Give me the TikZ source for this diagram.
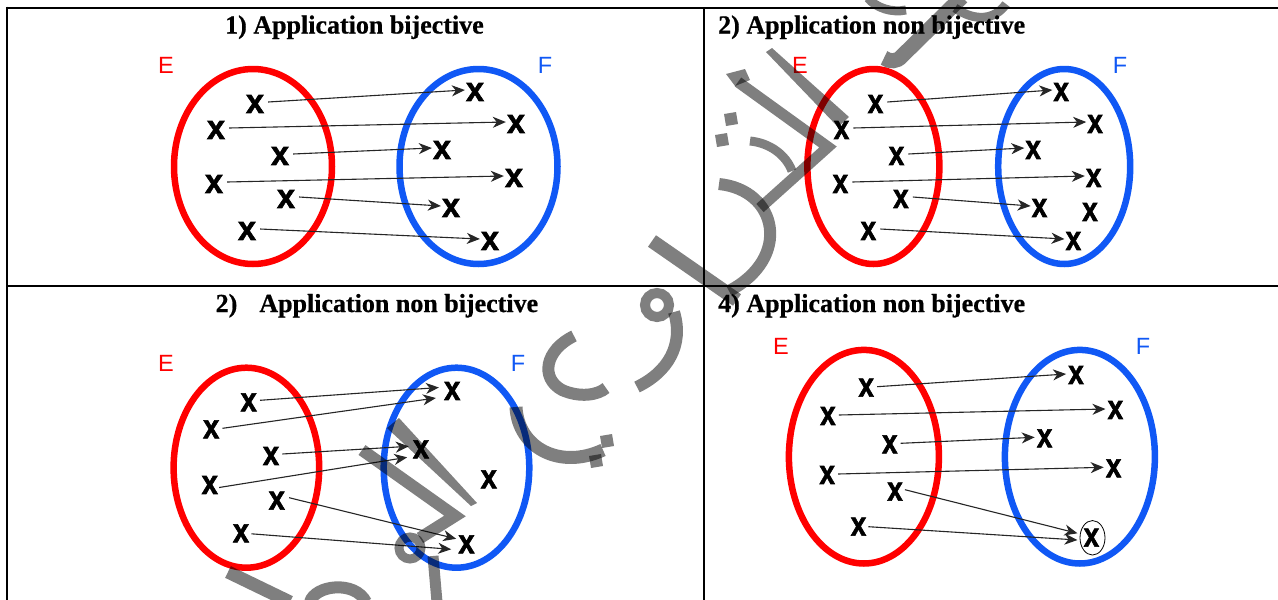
\documentclass[tikz,border=0pt]{standalone}
\usepackage{fontspec}
\setmainfont{Liberation Serif}[BoldFeatures={FakeBold=0.7}]
\setsansfont{Liberation Sans}
\newfontfamily\xmfont{Liberation Sans}[BoldFeatures={FakeBold=1.8}]
\usetikzlibrary{arrows.meta,shapes.geometric}
\definecolor{setred}{RGB}{255,0,0}
\definecolor{setblue}{RGB}{16,88,245}
\begin{document}
\begin{tikzpicture}[x=1pt,y=-1pt,
  title/.style={font=\fontsize{26}{26}\selectfont\bfseries, inner sep=0pt, anchor=base west},
  labE/.style={font=\sffamily\fontsize{23.5}{23.5}\selectfont, inner sep=0pt, text=setred},
  labF/.style={font=\sffamily\fontsize{23.5}{23.5}\selectfont, inner sep=0pt, text=setblue},
  xm/.style={font=\xmfont\bfseries\fontsize{34}{34}\selectfont, inner sep=0pt},
  ellE/.style={draw=setred, line width=6.5pt},
  ellF/.style={draw=setblue, line width=6.5pt},
  arr/.style={draw=black!85, line width=1.1pt, -{Stealth[length=13pt,width=11pt,inset=4pt]}},
  grid/.style={draw=black, line width=2pt},
  wm/.style={draw=black, opacity=0.5, line width=12pt},
  wmf/.style={fill=black, opacity=0.5}]
\useasboundingbox (0,0) rectangle (1278,600);
\fill[white] (0,0) rectangle (1278,600);

% table rules
\draw[grid] (6,7.5) -- (1278,7.5);
\draw[grid] (6,286) -- (1278,286);
\draw[grid] (7,6.5) -- (7,600);
\draw[grid] (703.5,7.5) -- (703.5,600);

% titles
\node[title] (t1) at (225,33.5) {1) Application bijective};
\node[title] (t2) at (718,33.5) {2) Application non bijective};
\node[title] (t3) at (215.5,312) {2)\hspace{22pt}Application non bijective};
\node[title] (t4) at (718,312) {4) Application non bijective};

% ===== panel 1 =====
\node[labE] (e1) at (166,65.5) {E};
\node[labF] (f1) at (545,65.5) {F};
\draw[ellE] (253,166.5) ellipse [x radius=79pt, y radius=97.5pt];
\draw[ellF] (478.5,166.5) ellipse [x radius=79pt, y radius=97.5pt];
\begin{scope}[every node/.style={xm, xscale=0.95}]
\node (a1) at (255,104) {x};
\node (a2) at (216,130) {x};
\node (a3) at (280,156) {x};
\node (a4) at (214,184) {x};
\node (a5) at (286,199) {x};
\node (a6) at (247,231) {x};
\node (b1) at (475,92) {x};
\node (b2) at (516,124) {x};
\node (b3) at (442,150) {x};
\node (b4) at (514,178) {x};
\node (b5) at (451,208) {x};
\node (b6) at (490,241) {x};
\end{scope}
\foreach \i in {1,...,6}
  \draw[arr] ([shift={(4pt,2pt)}]a\i.east) -- ([shift={(-1pt,2pt)}]b\i.west);

% ===== panel 2 =====
\node[labE] (e2) at (800,65.5) {E};
\node[labF] (f2) at (1120,65.5) {F};
\draw[ellE] (873.4,166.5) ellipse [x radius=66pt, y radius=97.5pt];
\draw[ellF] (1064.2,166.5) ellipse [x radius=66pt, y radius=97.5pt];
\begin{scope}[every node/.style={xm, xscale=0.82}]
\node (c1) at (875.5,104) {x};
\node (c2) at (841.5,130) {x};
\node (c3) at (896.5,156) {x};
\node (c4) at (840.4,184) {x};
\node (c5) at (900.9,199) {x};
\node (c6) at (868.4,231) {x};
\node (d1) at (1061.2,92) {x};
\node (d2) at (1095.1,124) {x};
\node (d3) at (1033.2,150) {x};
\node (d4) at (1093.7,178) {x};
\node (d5) at (1039.5,208) {x};
\node (d6) at (1073.4,241) {x};
\node (d7) at (1090,212) {x};
\end{scope}
\foreach \i in {1,...,6}
  \draw[arr] ([shift={(4pt,2pt)}]c\i.east) -- ([shift={(-1pt,2pt)}]d\i.west);

% ===== panel 3 =====
\node[labE] (e3) at (166,363) {E};
\node[labF] (f3) at (518,363) {F};
\draw[ellE] (246.4,467.7) ellipse [x radius=72.8pt, y radius=100pt];
\draw[ellF] (456.5,467.7) ellipse [x radius=72.8pt, y radius=100pt];
\begin{scope}[every node/.style={xm, xscale=0.86}]
\node (g1) at (248.7,402.3) {x};
\node (g2) at (211.2,429.3) {x};
\node (g3) at (271,456) {x};
\node (g4) at (209.8,485) {x};
\node (g5) at (276.8,500.7) {x};
\node (g6) at (241,533.3) {x};
\node (h1) at (452.2,391) {x};
\node (h2) at (421,449.3) {x};
\node (h3) at (488.8,479.3) {x};
\node (h4) at (466.5,544.3) {x};
\end{scope}
\draw[arr] ([shift={(3pt,2pt)}]g1.east) -- ([shift={(-5pt,3.5pt)}]h1.west);
\draw[arr] ([shift={(3pt,1pt)}]g2.east) -- ([shift={(-8pt,-7pt)}]h1.west);
\draw[arr] ([shift={(3pt,2pt)}]g3.east) -- ([shift={(-4pt,3pt)}]h2.west);
\draw[arr] ([shift={(1pt,-2.5pt)}]g4.east) -- ([shift={(-5.5pt,-8pt)}]h2.west);
\draw[arr] ([shift={(4pt,3pt)}]g5.east) -- ([shift={(-2pt,5.5pt)}]h4.west);
\draw[arr] ([shift={(2pt,-0.5pt)}]g6.east) -- ([shift={(-7pt,-5pt)}]h4.west);

% ===== panel 4 =====
\node[labE] (e4) at (781,346.7) {E};
\node[labF] (f4) at (1143,346.7) {F};
\draw[ellE] (863.9,456.7) ellipse [x radius=75pt, y radius=106.8pt];
\draw[ellF] (1079.9,456.7) ellipse [x radius=75pt, y radius=106.8pt];
\begin{scope}[every node/.style={xm, xscale=0.82}]
\node (m1) at (866.2,387.7) {x};
\node (m2) at (827.9,416) {x};
\node (m3) at (889.8,444.3) {x};
\node (m4) at (827.2,475) {x};
\node (m5) at (895,491.7) {x};
\node (m6) at (858.5,526.7) {x};
\node (n1) at (1076,375) {x};
\node (n2) at (1115.4,410) {x};
\node (n3) at (1044.6,438.3) {x};
\node (n4) at (1113.6,468.3) {x};
\node (n5) at (1091.4,537.7) {x};
\end{scope}
\node[draw=black, line width=0.8pt, ellipse, minimum width=25pt, minimum height=34.5pt, inner sep=0pt] (circ) at (1092.5,537.8) {};
\foreach \i in {1,...,4}
  \draw[arr] ([shift={(3pt,1pt)}]m\i.east) -- ([shift={(-2pt,1pt)}]n\i.west);
\draw[arr] ([shift={(2pt,2pt)}]m5.east) -- ([shift={(-6pt,4.4pt)}]n5.west);
\draw[arr] ([shift={(2pt,0pt)}]m6.east) -- ([shift={(-6pt,-2.3pt)}]n5.west);

% ===== watermark =====
% top
\draw[wm, line width=15pt] (962,-3) -- (902,56) .. controls (897,62) and (890,62) .. (884,58);
\draw[wm, line width=9pt] (868,-2) .. controls (876,8) and (892,13) .. (906,10);
\draw[wm, line width=9pt] (955,8) .. controls (975,22) and (995,20) .. (1006,4);
% panel 2 left
\fill[wmf] (766,52) -- (772,48) -- (849,117) -- (838,127) -- cycle;
\draw[wm, line width=11pt, line join=miter] (738,82) -- (828,147) -- (760,208);
\fill[wmf] (726,74) -- (745,69) -- (750,80) -- (735,86) -- cycle;
\draw[wm, line width=12pt] (719,184) .. controls (778,190) and (792,258) .. (729,291);
\draw[wm, line width=9pt] (750,141) .. controls (770,143) and (786,155) .. (792,171);
\fill[wmf] (731,119) +(-7,-5) -- +(5,-7) -- +(7,5) -- +(-5,7) -- cycle;
\fill[wmf] (722,140) +(-7,-5) -- +(5,-7) -- +(7,5) -- +(-5,7) -- cycle;
% middle band
\draw[wm, line width=14pt] (652,241) -- (737,300);
\draw[wm, line width=10pt] (657,305) circle [radius=12pt];
\draw[wm, line width=12pt] (674,312) .. controls (684,345) and (668,372) .. (637,387);
% ya
\draw[wm, line width=12pt] (574,336) .. controls (545,350) and (540,378) .. (562,390) .. controls (580,398) and (598,395) .. (606,388);
\draw[wm, line width=13pt] (516,407) .. controls (518,448) and (560,470) .. (603,450);
\fill[wmf] (607,441) +(-7,-5) -- +(5,-7) -- +(7,5) -- +(-5,7) -- cycle;
\fill[wmf] (596,461) +(-7,-5) -- +(5,-7) -- +(7,5) -- +(-5,7) -- cycle;
% panel 3 blue
\fill[wmf] (387,428) -- (399,418) -- (477,503) -- (471,506) -- cycle;
\draw[wm, line width=12pt, line join=miter] (362,450) -- (455,516) -- (420,538);
\draw[wm, line width=9pt] (410,548) circle [radius=11pt];
\draw[wm, line width=11pt] (433,556) -- (437,602);
% bottom
\draw[wm, line width=13pt] (228,572) -- (290,602);
\draw[wm, line width=12pt] (310,602) .. controls (315,585) and (355,580) .. (366,602);
\end{tikzpicture}
\end{document}
